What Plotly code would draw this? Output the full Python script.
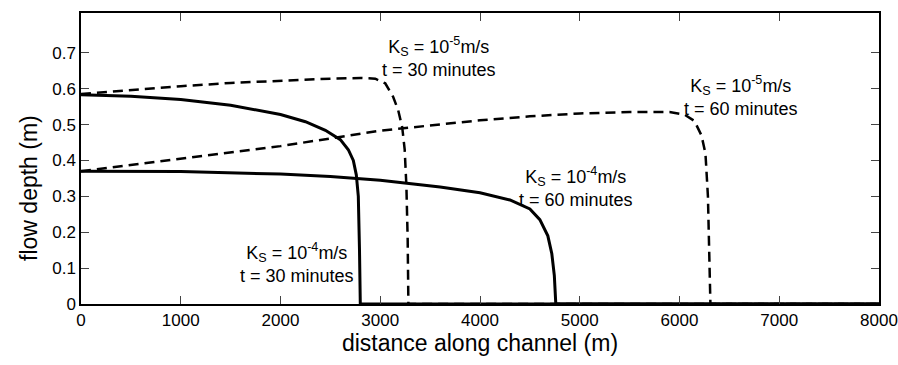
import plotly.graph_objects as go

# distance along channel (m) and flow depth (m)
solid30_x = [0, 500, 1000, 1500, 2000, 2250, 2450, 2600, 2680, 2730, 2760, 2780, 2792, 2800, 8000]
solid30_y = [0.583, 0.579, 0.570, 0.554, 0.528, 0.508, 0.484, 0.458, 0.430, 0.400, 0.360, 0.300, 0.150, 0.0, 0.0]

solid60_x = [0, 1000, 2000, 2500, 3000, 3600, 4000, 4300, 4500, 4600, 4680, 4720, 4745, 4755, 4760, 8000]
solid60_y = [0.370, 0.369, 0.362, 0.355, 0.345, 0.326, 0.310, 0.290, 0.265, 0.235, 0.190, 0.140, 0.080, 0.030, 0.0, 0.0]

dash30_x = [0, 500, 1000, 1500, 2000, 2500, 2800, 2950, 3050, 3130, 3180, 3220, 3245, 3262, 3275, 3282, 8000]
dash30_y = [0.585, 0.597, 0.607, 0.616, 0.623, 0.628, 0.630, 0.628, 0.615, 0.577, 0.540, 0.493, 0.430, 0.330, 0.180, 0.0, 0.0]

dash60_x = [0, 1000, 2000, 3000, 3230, 4000, 4500, 5000, 5500, 5900, 6050, 6150, 6220, 6260, 6285, 6300, 6310, 8000]
dash60_y = [0.370, 0.405, 0.440, 0.483, 0.490, 0.512, 0.523, 0.531, 0.535, 0.535, 0.528, 0.510, 0.470, 0.420, 0.300, 0.120, 0.0, 0.0]

x_ticks = [0, 1000, 2000, 3000, 4000, 5000, 6000, 7000, 8000]
y_ticks = [0, 0.1, 0.2, 0.3, 0.4, 0.5, 0.6, 0.7]
y_ticktext = ["0", "0.1", "0.2", "0.3", "0.4", "0.5", "0.6", "0.7"]

labels = [
    "K<sub>S</sub> = 10<sup>-5</sup>m/s<br>t = 30 minutes",
    "K<sub>S</sub> = 10<sup>-5</sup>m/s<br>t = 60 minutes",
    "K<sub>S</sub> = 10<sup>-4</sup>m/s<br>t = 60 minutes",
    "K<sub>S</sub> = 10<sup>-4</sup>m/s<br>t = 30 minutes",
]
label_x = [3590, 6620, 4960, 2162]
label_y = [0.687, 0.579, 0.326, 0.114]

FONT = "Liberation Sans, Arial, Helvetica, sans-serif"

fig = go.Figure()
for xs, ys, dash, w in [
    (solid30_x, solid30_y, "solid", 3),
    (solid60_x, solid60_y, "solid", 3),
    (dash30_x, dash30_y, "10px,6px", 2.5),
    (dash60_x, dash60_y, "10px,6px", 2.5),
]:
    fig.add_trace(go.Scatter(x=xs, y=ys, mode="lines",
                             line=dict(color="black", width=w, dash=dash),
                             showlegend=False, hoverinfo="skip"))

for t, lx, ly in zip(labels, label_x, label_y):
    fig.add_annotation(x=lx, y=ly, text=t, showarrow=False, align="center",
                       font=dict(family=FONT, size=18, color="black"))

fig.add_annotation(xref="paper", yref="paper", x=-0.066, y=0.40, text="flow depth (m)",
                   textangle=-90, showarrow=False, xanchor="center", yanchor="middle",
                   font=dict(family=FONT, size=23, color="black"))

fig.update_layout(
    width=898, height=365,
    margin=dict(l=81, r=19, t=13, b=61),
    paper_bgcolor="white", plot_bgcolor="white",
    font=dict(family=FONT, size=17, color="black"),
)
fig.update_xaxes(range=[0, 8000], tickvals=x_ticks, tickformat="d", automargin=False,
                 ticks="inside", ticklen=8, tickcolor="#444", tickwidth=1,
                 showline=True, linecolor="black", linewidth=1.5, mirror="ticks",
                 showgrid=False, zeroline=False,
                 title=dict(text="distance along channel (m)", font=dict(size=23), standoff=4))
fig.update_yaxes(range=[0, 0.811], tickvals=y_ticks, ticktext=y_ticktext, automargin=False,
                 ticks="inside", ticklen=8, tickcolor="#444", tickwidth=1,
                 showline=True, linecolor="black", linewidth=1.5, mirror="ticks",
                 showgrid=False, zeroline=False)

fig.write_html("out.html", config={"displayModeBar": False},
               post_script="document.body.style.margin='0';document.body.style.overflow='hidden';")
